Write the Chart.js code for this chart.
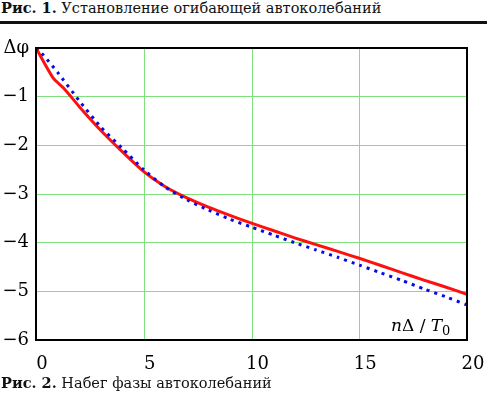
<!DOCTYPE html>
<html lang="ru">
<head>
<meta charset="UTF-8">
<title>Набег фазы автоколебаний</title>
<script src="https://cdn.jsdelivr.net/npm/chart.js"></script>
<style>
    body { margin: 0; background: #fff; font-family: 'DejaVu Serif', serif; }
    #wrap { position: relative; width: 487px; height: 394px; overflow: hidden; }
    #chart { position: absolute; left: 0; top: 0; }
    .cap { position: absolute; left: 1px; font-size: 14.5px; color: #111; white-space: nowrap; }
    .cap b { font-weight: bold; }
    #rule { position: absolute; left: 0; top: 21px; width: 487px; height: 3px; background: #111; }
</style>
</head>
<body>
<div id="wrap">
    <div class="cap" style="top:-1px;"><b>Рис. 1.</b> Установление огибающей автоколебаний</div>
    <div id="rule"></div>
    <canvas id="chart" width="487" height="394"></canvas>
    <div class="cap" style="top:374px;"><b>Рис. 2.</b> Набег фазы автоколебаний</div>
</div>
<script>
// x = nΔ/T0
const redX  = [0, 0.8, 1.3, 2, 3, 4, 5, 6, 7, 8, 9, 10, 11, 12, 13, 14, 15, 16, 17, 18, 19, 20];
const redY  = [0, -0.62, -0.83, -1.2, -1.69, -2.13, -2.54, -2.85, -3.08, -3.27, -3.44, -3.6, -3.75, -3.9, -4.04, -4.18, -4.32, -4.47, -4.62, -4.77, -4.91, -5.06];
const blueX = [0, 0.35, 1, 2, 3, 4, 5, 6, 7, 8, 9, 10, 11, 12, 13, 14, 15, 16, 17, 18, 19, 20];
const blueY = [0, -0.15, -0.5, -1.08, -1.62, -2.06, -2.5, -2.86, -3.12, -3.33, -3.52, -3.68, -3.84, -4.0, -4.15, -4.3, -4.46, -4.62, -4.78, -4.95, -5.11, -5.28];
const xTicks = [0, 5, 10, 15, 20];
const yTicks = [0, -1, -2, -3, -4, -5, -6];

const toPts = (xs, ys) => xs.map((x, i) => ({ x: x, y: ys[i] }));
const serif = "'DejaVu Serif', serif";
const gridGreen = '#7fe07f';

// vertical grid lines (drawn here so they keep the green)
const vGridPlugin = {
    id: 'vgrid',
    beforeDatasetsDraw(chart) {
        const a = chart.chartArea, ctx = chart.ctx, sx = chart.scales.x;
        ctx.save();
        ctx.strokeStyle = gridGreen;
        ctx.lineWidth = 1;
        xTicks.forEach(v => {
            const px = Math.round(sx.getPixelForValue(v)) + 0.5;
            ctx.beginPath();
            ctx.moveTo(px, a.top);
            ctx.lineTo(px, a.bottom);
            ctx.stroke();
        });
        ctx.restore();
    }
};

// black frame round the plot + axis label inside
const framePlugin = {
    id: 'frame',
    afterDatasetsDraw(chart) {
        const a = chart.chartArea, ctx = chart.ctx;
        ctx.save();
        ctx.strokeStyle = '#000';
        ctx.lineWidth = 2;
        ctx.strokeRect(a.left, a.top, a.right - a.left, a.bottom - a.top);

        // nΔ / T0
        let x = 391, y = 331;
        ctx.fillStyle = '#000';
        ctx.textBaseline = 'alphabetic';
        ctx.font = 'italic 17px ' + serif;
        ctx.fillText('n', x, y); x += ctx.measureText('n').width;
        ctx.font = '17px ' + serif;
        ctx.fillText('Δ / ', x, y); x += ctx.measureText('Δ / ').width;
        ctx.font = 'italic 17px ' + serif;
        ctx.fillText('T', x, y); x += ctx.measureText('T').width;
        ctx.font = '13px ' + serif;
        ctx.fillText('0', x, y + 4);
        ctx.restore();
    }
};

new Chart(document.getElementById('chart'), {
    type: 'line',
    data: {
        datasets: [{
            data: toPts(redX, redY),
            borderColor: '#ff1010',
            borderWidth: 3,
            pointRadius: 0,
            tension: 0.2,
            order: 1
        }, {
            data: toPts(blueX, blueY),
            borderColor: '#0a0ae0',
            borderWidth: 3,
            borderDash: [3, 5],
            pointRadius: 0,
            tension: 0.2,
            order: 0
        }]
    },
    options: {
        responsive: false,
        animation: false,
        devicePixelRatio: 1,
        layout: { padding: { top: 48, right: 20, left: 0, bottom: 0 } },
        plugins: { legend: { display: false }, tooltip: { enabled: false } },
        scales: {
            x: {
                type: 'linear', min: 0, max: 20,
                afterBuildTicks: s => { s.ticks = xTicks.map(v => ({ value: v })); },
                afterFit: s => { s.height = 54; },
                grid: { display: false },
                border: { display: false },
                ticks: { color: '#000', font: { family: serif, size: 18 }, padding: 6, labelOffset: 6 }
            },
            y: {
                type: 'linear', min: -6, max: 0,
                afterBuildTicks: s => { s.ticks = yTicks.map(v => ({ value: v })); },
                afterFit: s => { s.width = 36; },
                grid: { color: gridGreen, lineWidth: 1, drawTicks: false },
                border: { display: false },
                ticks: {
                    color: '#000', font: { family: serif, size: 18 }, padding: 7,
                    callback: v => v === 0 ? 'Δφ' : '\u2212' + Math.abs(v)
                }
            }
        }
    },
    plugins: [vGridPlugin, framePlugin]
});
</script>
</body>
</html>
